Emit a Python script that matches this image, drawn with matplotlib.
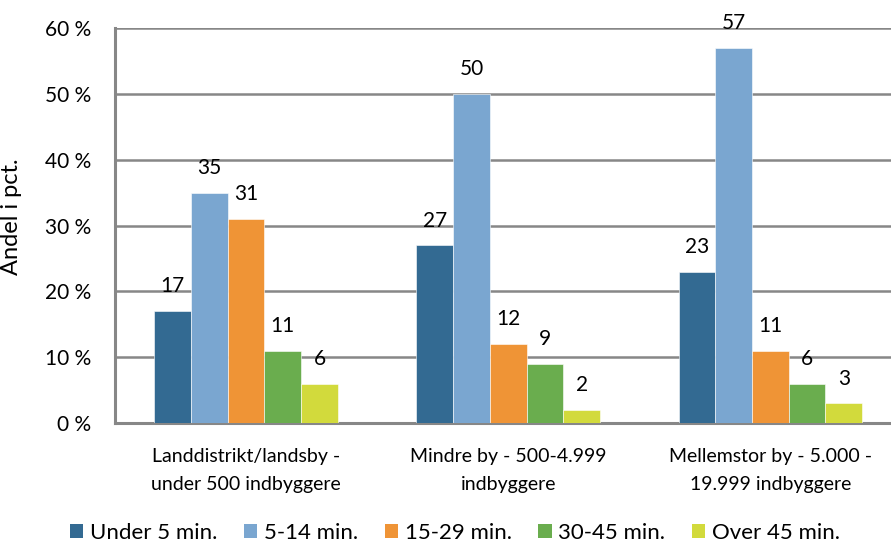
import matplotlib
matplotlib.use("Agg")
import matplotlib.pyplot as plt
import numpy as np
from matplotlib.patches import Patch

categories = ["Landdistrikt/landsby -\nunder 500 indbyggere",
              "Mindre by - 500-4.999\nindbyggere",
              "Mellemstor by - 5.000 -\n19.999 indbyggere"]
series_names = ["Under 5 min.", "5-14 min.", "15-29 min.", "30-45 min.", "Over 45 min."]
under_5 = [17, 27, 23]
min_5_14 = [35, 50, 57]
min_15_29 = [31, 12, 11]
min_30_45 = [11, 9, 6]
over_45 = [6, 2, 3]
series_values = [under_5, min_5_14, min_15_29, min_30_45, over_45]
yticks = [0, 10, 20, 30, 40, 50, 60]
ytick_labels = ["0 %", "10 %", "20 %", "30 %", "40 %", "50 %", "60 %"]

colors = ["#336A92", "#7AA6D0", "#EF9436", "#6AAD4E", "#D2DA3C"]
grid_gray = "#878787"

plt.rcParams['font.family'] = ['Lato', 'DejaVu Sans']

fig = plt.figure(figsize=(8.91, 5.44), dpi=100)
ax = fig.add_axes([115/891, 121/544, 786.5/891, 395/544])

x = np.arange(len(categories))
bw = 0.14
for i, (vals, col, name) in enumerate(zip(series_values, colors, series_names)):
    pos = x + (i - 2) * bw
    ax.bar(pos, vals, width=bw, color=col, edgecolor="white", linewidth=0.4, zorder=3)
    for p, v in zip(pos, vals):
        ax.annotate(str(v), (p, v), xytext=(0, 10.5), textcoords="offset points",
                    ha="center", va="bottom", fontsize=15, color="black")

ax.set_xlim(-0.5, 2.5)
ax.set_ylim(0, 60)
ax.set_yticks(yticks)
ax.set_yticklabels(ytick_labels, fontsize=15)
ax.set_xticks(x)
ax.set_xticklabels(categories, fontsize=14, linespacing=1.8)
ax.tick_params(axis="y", length=0, pad=17)
ax.tick_params(axis="x", length=0, pad=18)
ax.yaxis.grid(True, color=grid_gray, linewidth=1.8, zorder=0)
ax.set_axisbelow(True)
for s in ["top", "right"]:
    ax.spines[s].set_visible(False)
for s in ["left", "bottom"]:
    ax.spines[s].set_color(grid_gray)
    ax.spines[s].set_linewidth(2.2)
ax.set_ylabel("Andel i pct.", fontsize=17)
ax.yaxis.set_label_coords((22 - 115) / 786.5, (423 - 217) / 395)

handles = [Patch(facecolor=c, edgecolor="none") for c in colors]
fig.legend(handles, series_names, loc="center", bbox_to_anchor=(455/891, 1 - 533/544),
           ncol=5, frameon=False, fontsize=16, handlelength=0.6, handleheight=0.6,
           handletextpad=0.3, columnspacing=1.2, borderpad=0.2)

fig.savefig("out.png", dpi=100)
